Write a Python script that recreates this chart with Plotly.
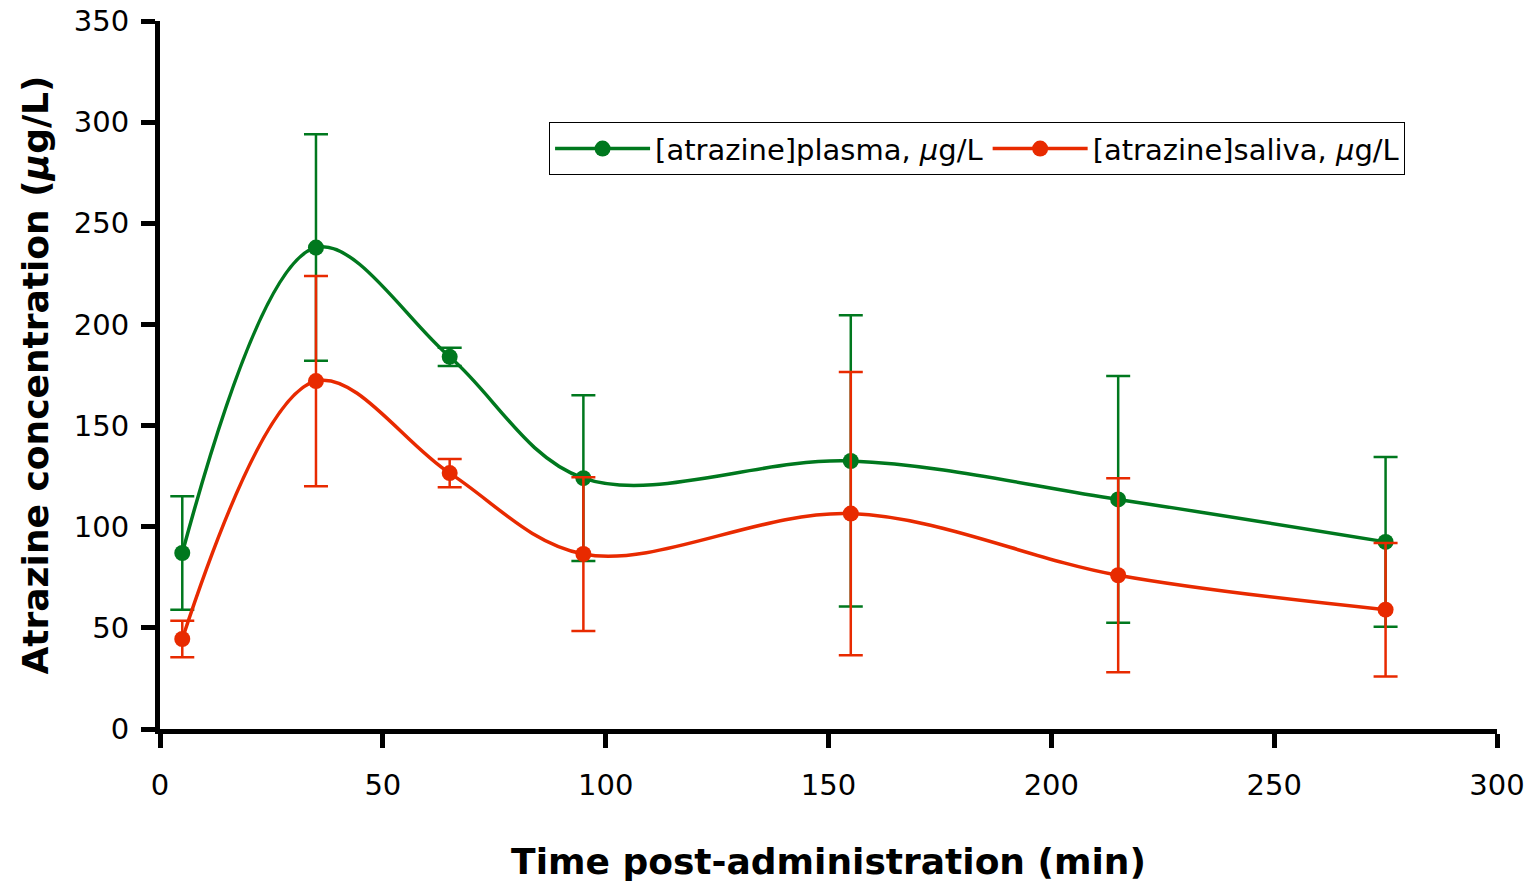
import plotly.graph_objects as go

# Sampling times (min) and measured atrazine concentrations (µg/L)
time_min = [5, 35, 65, 95, 155, 215, 275]
plasma = [87, 238, 184, 124, 132.5, 113.5, 92.5]
plasma_err = [28, 56, 4.5, 41, 72, 61, 42]
saliva = [44.5, 172, 126.5, 86.5, 106.5, 76, 59]
saliva_err = [9, 52, 7, 38, 70, 48, 33]

x_ticks = [0, 50, 100, 150, 200, 250, 300]
y_ticks = [0, 50, 100, 150, 200, 250, 300, 350]

GREEN = "#00781E"
RED = "#E82A00"
FONT = "'Comic Sans MS', 'DejaVu Sans', sans-serif"

fig = go.Figure()

for name, vals, errs, color in [
    ("[atrazine]plasma, <i>µ</i>g/L", plasma, plasma_err, GREEN),
    ("[atrazine]saliva, <i>µ</i>g/L", saliva, saliva_err, RED),
]:
    fig.add_trace(go.Scatter(
        x=time_min, y=vals, name=name,
        mode="lines+markers",
        line=dict(color=color, width=3.5, shape="spline", smoothing=1.0),
        marker=dict(color=color, size=16),
        error_y=dict(type="data", array=errs, visible=True,
                     color=color, thickness=2.5, width=12),
    ))

axis_common = dict(
    showline=True, linecolor="black", linewidth=5,
    ticks="outside", ticklen=14, tickwidth=5, tickcolor="black",
    showgrid=False, zeroline=False, automargin=False,
    tickfont=dict(family=FONT, size=29, color="black"),
)

fig.update_xaxes(
    range=[0, 300], tickvals=x_ticks, ticklabelstandoff=12,
    title=dict(text="<b>Time post-administration (min)</b>",
               font=dict(family=FONT, size=36, color="black"), standoff=50),
    **axis_common,
)
fig.update_yaxes(
    range=[0, 350], tickvals=y_ticks, ticklabelstandoff=6,
    title=dict(text="<b>Atrazine concentration (<i>µ</i>g/L)</b>",
               font=dict(family=FONT, size=36, color="black"), standoff=16),
    **axis_common,
)

fig.update_layout(
    width=1537, height=888,
    margin=dict(l=160, r=40, t=21, b=159),
    plot_bgcolor="white", paper_bgcolor="white",
    showlegend=True,
    legend=dict(
        orientation="h", x=0.291, y=0.857, xanchor="left", yanchor="top",
        bordercolor="black", borderwidth=1, bgcolor="white",
        font=dict(family=FONT, size=29, color="black"),
        itemwidth=95,
    ),
)

fig.write_html("out.html")
